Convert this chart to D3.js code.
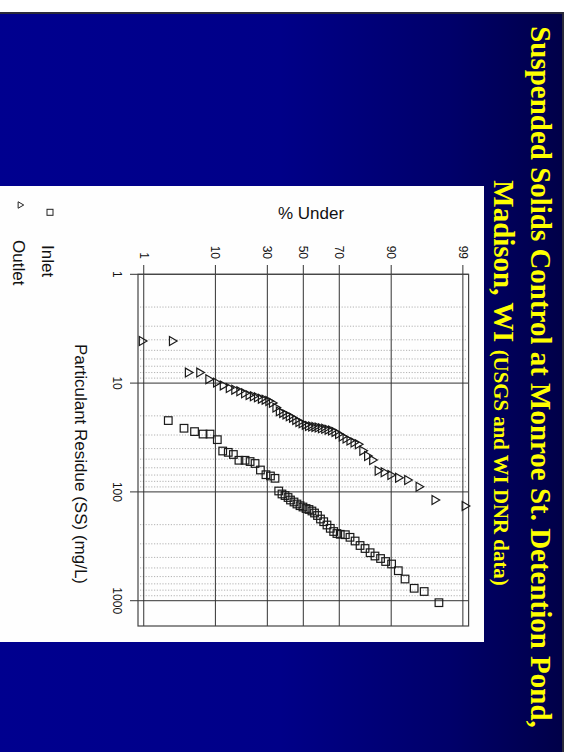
<!DOCTYPE html>
<html>
<head>
<meta charset="utf-8">
<script src="https://cdn.jsdelivr.net/npm/d3@7"></script>
<style>
  body { margin: 0; background: #fff; }
  svg { display: block; }
</style>
</head>
<body>
<svg id="slide" width="565" height="752"></svg>
<script>
// slide texts
const title1 = "Suspended Solids Control at Monroe St. Detention Pond,";
const title2a = "Madison, WI ";
const title2b = "(USGS and WI DNR data)";
const xTitle = "% Under";
const yTitle = "Particulant Residue (SS) (mg/L)";
const legendNames = ["Inlet", "Outlet"];

// axis ticks
const pctTicks = [1, 10, 30, 50, 70, 90, 99];
const concTicks = [1, 10, 100, 1000];

// inlet (squares): percent under, SS mg/L
const inletPct = [2.45, 4.10, 5.64, 7.19, 8.69, 10.5, 12.0, 13.7, 15.4, 17.4, 19.8, 21.9, 24.1, 26.6, 29.3, 31.6, 34.0, 36.0,
  37.8, 39.5, 41.2, 42.6, 44.6, 46.3, 48.1, 49.8, 51.6, 53.3, 55.0, 56.5, 58.2, 59.9, 61.7, 63.5, 65.3, 67.1, 68.8, 70.5,
  73.0, 75.2, 77.5, 79.6, 81.6, 83.5, 85.2, 87.0, 88.5, 90.1, 91.7, 93.1, 94.7, 96.1, 97.6];
const inletConc = [22.1, 26.0, 27.9, 29.4, 29.4, 33.1, 42.1, 43.3, 45.3, 51.2, 51.2, 52.6, 54.8, 62.9, 69.5, 71.4, 75.0, 98.1,
  104.5, 108.0, 112.6, 118.7, 123.8, 129.2, 133.9, 137.7, 142.1, 145.1, 149.8, 156.3, 164.8, 177.5, 187.9, 201.5, 216.1, 231.2, 241.2, 245.3,
  247.4, 261.4, 282.7, 310.9, 331.3, 362.2, 388.4, 409.5, 436.3, 459.9, 530.1, 631.9, 769.1, 823.1, 1043];

// outlet (triangles)
const outletPct = [0.93, 2.78, 4.63, 6.48, 8.33, 10.19, 12.04, 13.89, 15.74, 17.59, 19.44, 21.30, 23.15, 25.00, 26.85, 28.70,
  30.56, 32.41, 34.26, 36.11, 37.96, 39.81, 41.67, 43.52, 45.37, 47.22, 49.07, 50.93, 52.78, 54.63, 56.48, 58.33, 60.19,
  62.04, 63.89, 65.74, 67.59, 69.44, 71.30, 73.15, 75.00, 76.85, 78.70, 80.56, 82.41, 84.26, 86.11, 87.96, 89.81, 91.67,
  93.52, 95.37, 97.22, 99.07];
const outletConc = [4.1, 4.1, 8.0, 8.0, 9.2, 9.9, 10.5, 11.1, 11.5, 11.9, 12.4, 12.9, 13.2, 13.5, 13.9, 14.2,
  14.6, 15.2, 16.8, 18.2, 18.8, 19.4, 20.2, 20.8, 21.8, 22.8, 23.4, 24.2, 24.8, 25.1, 25.3, 25.6, 26.0,
  26.3, 26.8, 27.3, 28.1, 29.4, 31.0, 32.3, 33.8, 35.2, 36.5, 41.8, 46.8, 50.9, 63.9, 66.0, 69.9, 74.1,
  77.7, 89.6, 118.7, 134.8];

// inverse normal cdf (Acklam) for the probability axis
function probit(p) {
  const a = [-3.969683028665376e+01, 2.209460984245205e+02, -2.759285104469687e+02, 1.383577518672690e+02, -3.066479806614716e+01, 2.506628277459239e+00];
  const b = [-5.447609879822406e+01, 1.615858368580409e+02, -1.556989798598866e+02, 6.680131188771972e+01, -1.328068155288572e+01];
  const c = [-7.784894002430293e-03, -3.223964580411365e-01, -2.400758277161838e+00, -2.549732539343734e+00, 4.374664141464968e+00, 2.938163982698783e+00];
  const d = [7.784695709041462e-03, 3.224671290700398e-01, 2.445134137142996e+00, 3.754408661907416e+00];
  const pl = 0.02425;
  let q, r;
  if (p < pl) {
    q = Math.sqrt(-2 * Math.log(p));
    return (((((c[0]*q+c[1])*q+c[2])*q+c[3])*q+c[4])*q+c[5]) / ((((d[0]*q+d[1])*q+d[2])*q+d[3])*q+1);
  }
  if (p > 1 - pl) {
    q = Math.sqrt(-2 * Math.log(1 - p));
    return -(((((c[0]*q+c[1])*q+c[2])*q+c[3])*q+c[4])*q+c[5]) / ((((d[0]*q+d[1])*q+d[2])*q+d[3])*q+1);
  }
  q = p - 0.5; r = q * q;
  return (((((a[0]*r+a[1])*r+a[2])*r+a[3])*r+a[4])*r+a[5])*q / (((((b[0]*r+b[1])*r+b[2])*r+b[3])*r+b[4])*r+1);
}

const svg = d3.select("#slide");
const sans = "'Liberation Sans', Arial, sans-serif";
const serif = "'Liberation Serif', 'Times New Roman', serif";

// slide background
const grad = svg.append("defs").append("linearGradient").attr("id", "bg")
  .attr("x1", 0).attr("x2", 1).attr("y1", 0).attr("y2", 0);
grad.append("stop").attr("offset", 0).attr("stop-color", "#00008f");
grad.append("stop").attr("offset", 0.5).attr("stop-color", "#000088");
grad.append("stop").attr("offset", 0.8).attr("stop-color", "#00006a");
grad.append("stop").attr("offset", 1).attr("stop-color", "#000048");

svg.append("rect").attr("x", -2).attr("y", 13).attr("width", 565).attr("height", 745)
  .attr("fill", "url(#bg)").attr("stroke", "#2a2a3a").attr("stroke-width", 2);

// title (rotated slide)
const t1 = svg.append("text")
  .attr("transform", "translate(531,377) rotate(90)")
  .attr("text-anchor", "middle")
  .attr("font-family", serif).attr("font-weight", "bold")
  .attr("font-size", 28).attr("fill", "#ffff00")
  .text(title1);
const len1 = t1.node().getComputedTextLength();
const big = 28 * 702 / len1;
t1.attr("font-size", big);

const t2 = svg.append("text")
  .attr("transform", "translate(494,383) rotate(90)")
  .attr("text-anchor", "middle")
  .attr("font-family", serif).attr("font-weight", "bold")
  .attr("font-size", big).attr("fill", "#ffff00");
t2.append("tspan").text(title2a);
t2.append("tspan").attr("font-size", big * 0.72).text(title2b);

// chart image area
svg.append("rect").attr("x", 0).attr("y", 186).attr("width", 484).attr("height", 456)
  .attr("fill", "#fefefe");

const zScale = d3.scaleLinear().domain([-2.41, 2.41]).range([138, 468.6]);
const x = p => zScale(probit(p / 100));
const y = d3.scaleLog().domain([1, 1708]).range([274.3, 626]);

const plot = svg.append("g");

// dotted minor gridlines
const minor = [];
[1, 10, 100].forEach(dec => { for (let k = 2; k <= 9; k++) minor.push(dec * k); });
plot.selectAll(".minor").data(minor).join("line")
  .attr("x1", 140).attr("x2", 466)
  .attr("y1", d => y(d)).attr("y2", d => y(d))
  .attr("stroke", "#a0a0a0").attr("stroke-width", 0.8).attr("stroke-dasharray", "1.2,1.6");

// major gridlines
plot.selectAll(".vgrid").data(pctTicks).join("line")
  .attr("x1", d => x(d)).attr("x2", d => x(d))
  .attr("y1", 265).attr("y2", 626)
  .attr("stroke", "#333").attr("stroke-width", 1);
plot.selectAll(".hgrid").data(concTicks).join("line")
  .attr("x1", 130).attr("x2", 468.6)
  .attr("y1", d => y(d)).attr("y2", d => y(d))
  .attr("stroke", "#333").attr("stroke-width", 1);

// frame
plot.append("rect").attr("x", 138).attr("y", 274.3).attr("width", 330.6).attr("height", 351.7)
  .attr("fill", "none").attr("stroke", "#444").attr("stroke-width", 1.2);

// tick labels (rotated)
plot.selectAll(".xlab").data(pctTicks).join("text")
  .attr("transform", d => `translate(${x(d)},259) rotate(90)`)
  .attr("text-anchor", "end").attr("dy", "0.35em")
  .attr("font-family", sans).attr("font-size", 12).attr("fill", "#111")
  .text(d => d);
plot.selectAll(".ylab").data(concTicks).join("text")
  .attr("transform", d => `translate(117,${y(d)}) rotate(90)`)
  .attr("text-anchor", "middle").attr("dy", "0.35em")
  .attr("font-family", sans).attr("font-size", 12).attr("fill", "#111")
  .text(d => d);

// axis titles
svg.append("text").attr("x", 311).attr("y", 218.5)
  .attr("text-anchor", "middle").attr("font-family", sans).attr("font-size", 17).attr("fill", "#111")
  .text(xTitle);
svg.append("text").attr("transform", "translate(74.5,464) rotate(90)")
  .attr("text-anchor", "middle").attr("font-family", sans).attr("font-size", 17).attr("fill", "#111")
  .text(yTitle);

// data
const inlet = inletPct.map((p, i) => ({ p, c: inletConc[i] }));
const outlet = outletPct.map((p, i) => ({ p, c: outletConc[i] }));

plot.selectAll(".inlet").data(inlet).join("rect")
  .attr("x", d => x(d.p) - 3.8).attr("y", d => y(d.c) - 3.8)
  .attr("width", 7.6).attr("height", 7.6)
  .attr("fill", "none").attr("stroke", "#1a1a1a").attr("stroke-width", 1.2);

const tri = d3.symbol().type(d3.symbolTriangle).size(34);
plot.selectAll(".outlet").data(outlet).join("path")
  .attr("d", tri)
  .attr("transform", d => `translate(${x(d.p)},${y(d.c)}) rotate(90)`)
  .attr("fill", "none").attr("stroke", "#1a1a1a").attr("stroke-width", 1.2);

// legend
svg.append("rect").attr("x", 47).attr("y", 209.3).attr("width", 6).attr("height", 6)
  .attr("fill", "none").attr("stroke", "#222").attr("stroke-width", 1);
svg.append("path").attr("d", d3.symbol().type(d3.symbolTriangle).size(18))
  .attr("transform", "translate(20,205) rotate(90)")
  .attr("fill", "none").attr("stroke", "#222").attr("stroke-width", 1);
svg.append("text").attr("transform", "translate(42,245) rotate(90)")
  .attr("font-family", sans).attr("font-size", 17).attr("fill", "#111").text(legendNames[0]);
svg.append("text").attr("transform", "translate(12.5,240) rotate(90)")
  .attr("font-family", sans).attr("font-size", 17).attr("fill", "#111").text(legendNames[1]);
</script>
</body>
</html>
